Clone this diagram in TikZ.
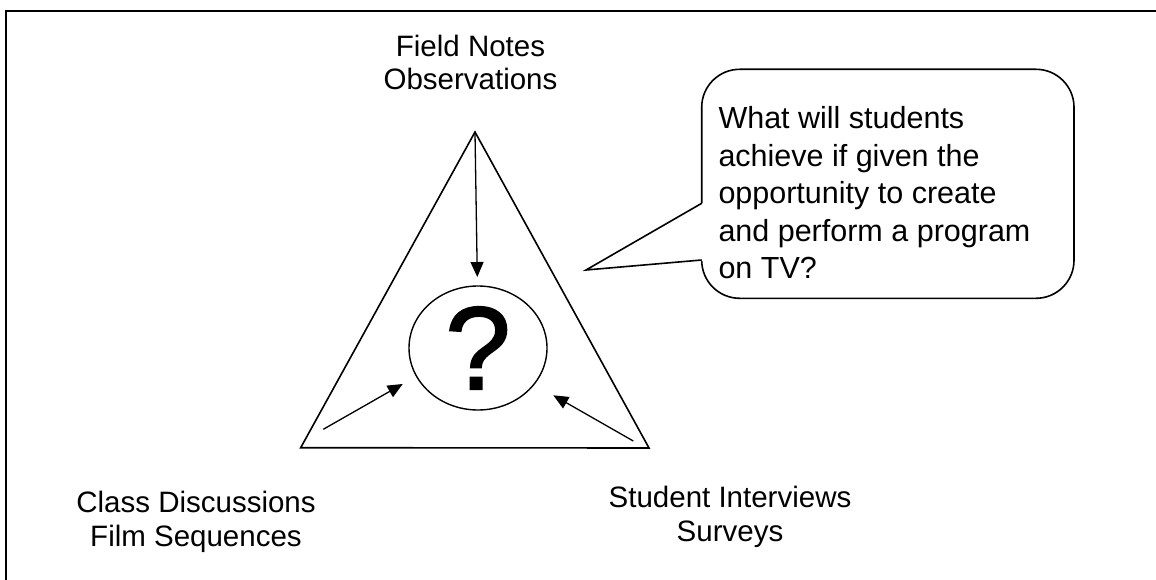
\documentclass[tikz,border=0pt]{standalone}
\usepackage{fontspec}
\setmainfont{Liberation Sans}
\newfontfamily\markfont[FakeBold=1.5]{Liberation Sans}
\usetikzlibrary{arrows.meta,shapes.geometric}
\begin{document}
\begin{tikzpicture}[x=1pt,y=-1pt,
  frameline/.style={line width=2.2pt},
  edge/.style={line width=1.6pt, line join=miter},
  feed/.style={line width=1.3pt, -{Triangle[length=15pt,width=13pt]}},
  srclabel/.style={align=center, font=\fontsize{29.5}{33.5}\selectfont, inner sep=0pt},
  bubble/.style={line width=1.6pt},
]
\useasboundingbox (0,0) rectangle (1156,580);

% page frame (top and left edges)
\draw[frameline] (6.2,580) -- (6.2,11.2) -- (1156,11.2);

% triangle of data sources
\coordinate (apex) at (475,132);
\coordinate (bl) at (300.7,447.7);
\coordinate (br) at (649,448);
\draw[edge] (apex) -- (bl) -- (br) -- cycle;

% central question
\node[draw, ellipse, line width=1.4pt, minimum width=138pt, minimum height=124pt,
      inner sep=0pt, font=\markfont\fontsize{118}{118}\selectfont] (q) at (478,348) {?};

% arrows feeding the question
\coordinate (topTail) at (475,133);
\coordinate (topHead) at (477.3,277);
\coordinate (leftTail) at (323.3,429.3);
\coordinate (leftHead) at (402.7,384);
\coordinate (rightTail) at (633.3,441);
\coordinate (rightHead) at (553.3,395.3);
\draw[feed] (topTail) -- (topHead);
\draw[feed] (leftTail) -- (leftHead);
\draw[feed] (rightTail) -- (rightHead);

% speech bubble
\draw[bubble, rounded corners=38pt] (701.7,69.3) rectangle (1074,298.3);
\fill[white] (586,270) -- (704,202.5) -- (704,261) -- cycle;
\coordinate (tip) at (586,270);
\draw[bubble, line join=miter] (701.7,203.3) -- (tip) -- (701.7,260);
\node[anchor=base west, align=left, font=\fontsize{30.5}{37.5}\selectfont, inner sep=0pt]
  (ask) at (718.3,278.5)
  {What will students\\achieve if given the\\opportunity to create\\and perform a program\\on TV?};

% source labels (anchored on the baseline of the last line)
\node[srclabel, anchor=base] (fieldnotes) at (470.5,90) {Field Notes\\Observations};
\node[srclabel, anchor=base] (classdisc) at (196,546) {Class Discussions\\Film Sequences};
\node[srclabel, anchor=base] (interviews) at (730,541) {Student Interviews\\Surveys};
\end{tikzpicture}
\end{document}
